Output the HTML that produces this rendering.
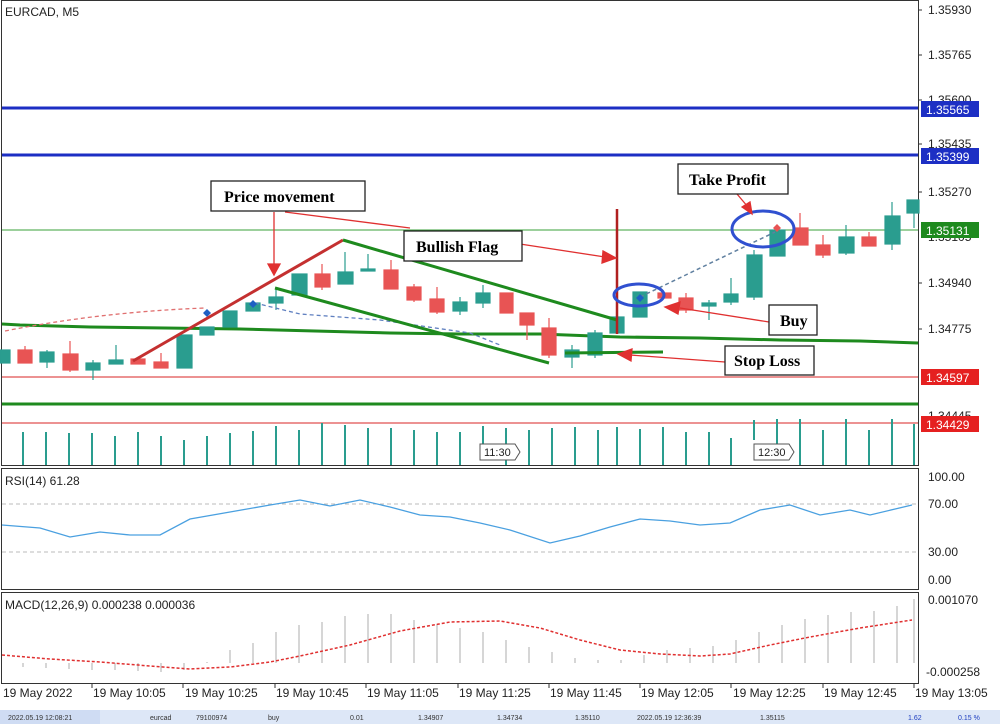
<!DOCTYPE html>
<html><head><meta charset="utf-8"><style>
body{margin:0;background:#fff;width:1000px;height:724px;overflow:hidden;font-family:"Liberation Sans",sans-serif}
svg{display:block}
.ax{font-size:12px;fill:#222;font-family:"Liberation Sans",sans-serif}
.bx{font-family:"Liberation Serif",serif;font-weight:bold;font-size:16px;fill:#000}
</style></head><body>
<svg width="1000" height="724" viewBox="0 0 1000 724">
<rect width="1000" height="724" fill="#fff"/>
<!-- panel borders -->
<rect x="1.5" y="0.5" width="917" height="465" fill="none" stroke="#333"/>
<rect x="1.5" y="468.5" width="917" height="121" fill="none" stroke="#333"/>
<rect x="1.5" y="592.5" width="917" height="91" fill="none" stroke="#333"/>
<text x="5" y="16" class="ax">EURCAD, M5</text>
<!-- right axis main -->
<g class="ax">
<text x="928" y="14">1.35930</text><text x="928" y="59">1.35765</text><text x="928" y="104">1.35600</text><text x="928" y="148">1.35435</text><text x="928" y="196">1.35270</text><text x="928" y="241">1.35105</text><text x="928" y="287">1.34940</text><text x="928" y="333">1.34775</text><text x="928" y="420">1.34445</text>
</g>
<g stroke="#333"><line x1="918" y1="10" x2="922" y2="10"/><line x1="918" y1="55" x2="922" y2="55"/><line x1="918" y1="100" x2="922" y2="100"/><line x1="918" y1="144" x2="922" y2="144"/><line x1="918" y1="192" x2="922" y2="192"/><line x1="918" y1="283" x2="922" y2="283"/><line x1="918" y1="329" x2="922" y2="329"/></g>
<!-- horizontal levels -->
<line x1="2" y1="108" x2="918" y2="108" stroke="#1d2fc4" stroke-width="3"/>
<line x1="2" y1="155" x2="918" y2="155" stroke="#1d2fc4" stroke-width="3"/>
<line x1="2" y1="230" x2="918" y2="230" stroke="#3aa03a" stroke-width="1"/>
<line x1="2" y1="377" x2="918" y2="377" stroke="#e05050" stroke-width="1.3"/>
<line x1="2" y1="404" x2="918" y2="404" stroke="#1e8a1e" stroke-width="3"/>
<line x1="2" y1="423" x2="918" y2="423" stroke="#e05050" stroke-width="1.3"/>
<polyline points="2,324 20,325 90,327 165,328 240,329 315,331 390,333 460,334 540,334 620,337 700,338 780,340 860,341 918,343" fill="none" stroke="#1e8a1e" stroke-width="3"/>
<rect x="921" y="101" width="58" height="16" fill="#1d2fc4"/><text x="926" y="114" class="ax" fill="#fff" style="fill:#fff">1.35565</text>
<rect x="921" y="148" width="58" height="16" fill="#1d2fc4"/><text x="926" y="161" style="fill:#fff" class="ax">1.35399</text>
<rect x="921" y="222" width="58" height="16" fill="#1e8a1e"/><text x="926" y="235" style="fill:#fff" class="ax">1.35131</text>
<rect x="921" y="369" width="58" height="16" fill="#e52020"/><text x="926" y="382" style="fill:#fff" class="ax">1.34597</text>
<rect x="921" y="416" width="58" height="16" fill="#e52020"/><text x="926" y="429" style="fill:#fff" class="ax">1.34429</text>
<!-- volume bars -->
<g stroke="#2a9d8f" stroke-width="2">
<line x1="23" y1="432" x2="23" y2="465"/><line x1="46" y1="432" x2="46" y2="465"/><line x1="69" y1="433" x2="69" y2="465"/><line x1="92" y1="433" x2="92" y2="465"/><line x1="115" y1="436" x2="115" y2="465"/><line x1="138" y1="432" x2="138" y2="465"/><line x1="161" y1="436" x2="161" y2="465"/><line x1="184" y1="440" x2="184" y2="465"/><line x1="207" y1="436" x2="207" y2="465"/><line x1="230" y1="433" x2="230" y2="465"/><line x1="253" y1="431" x2="253" y2="465"/><line x1="276" y1="426" x2="276" y2="465"/><line x1="299" y1="430" x2="299" y2="465"/><line x1="322" y1="423" x2="322" y2="465"/><line x1="345" y1="425" x2="345" y2="465"/><line x1="368" y1="428" x2="368" y2="465"/><line x1="391" y1="428" x2="391" y2="465"/><line x1="414" y1="430" x2="414" y2="465"/><line x1="437" y1="432" x2="437" y2="465"/><line x1="460" y1="432" x2="460" y2="465"/><line x1="483" y1="426" x2="483" y2="445"/><line x1="506" y1="428" x2="506" y2="465"/><line x1="529" y1="430" x2="529" y2="465"/><line x1="552" y1="428" x2="552" y2="465"/><line x1="575" y1="427" x2="575" y2="465"/><line x1="598" y1="430" x2="598" y2="465"/><line x1="617" y1="427" x2="617" y2="465"/><line x1="640" y1="429" x2="640" y2="465"/><line x1="663" y1="427" x2="663" y2="465"/><line x1="686" y1="432" x2="686" y2="465"/><line x1="709" y1="432" x2="709" y2="465"/><line x1="731" y1="438" x2="731" y2="465"/><line x1="754" y1="420" x2="754" y2="440"/><line x1="777" y1="419" x2="777" y2="445"/><line x1="800" y1="419" x2="800" y2="465"/><line x1="823" y1="430" x2="823" y2="465"/><line x1="846" y1="419" x2="846" y2="465"/><line x1="869" y1="430" x2="869" y2="465"/><line x1="892" y1="419" x2="892" y2="465"/><line x1="914" y1="424" x2="914" y2="465"/>
</g>
<g class="ax" style="font-size:11px"><path d="M480,444 H515 L520,452 L515,460 H480Z" fill="#fff" stroke="#555"/><text x="484" y="456">11:30</text>
<path d="M754,444 H789 L794,452 L789,460 H754Z" fill="#fff" stroke="#555"/><text x="758" y="456">12:30</text></g>
<!-- candles -->
<g stroke-width="1.2">
<g stroke="#2a9d8f" fill="#2a9d8f">
<rect x="0" y="350" width="10" height="13"/>
<line x1="47" y1="350" x2="47" y2="368"/><rect x="40" y="352" width="14" height="10"/>
<line x1="93" y1="360" x2="93" y2="380"/><rect x="86" y="363" width="14" height="7"/>
<line x1="116" y1="345" x2="116" y2="364"/><rect x="109" y="360" width="14" height="4"/>
<rect x="177" y="335" width="15" height="33"/>
<rect x="200" y="327" width="14" height="8"/>
<rect x="223" y="311" width="14" height="16"/>
<rect x="246" y="303" width="14" height="8"/>
<line x1="276" y1="288" x2="276" y2="310"/><rect x="269" y="297" width="14" height="6"/>
<rect x="292" y="274" width="15" height="21"/>
<line x1="345" y1="252" x2="345" y2="284"/><rect x="338" y="272" width="15" height="12"/>
<line x1="368" y1="254" x2="368" y2="271"/><rect x="361" y="269" width="14" height="2"/>
<line x1="460" y1="297" x2="460" y2="315"/><rect x="453" y="302" width="14" height="9"/>
<line x1="483" y1="285" x2="483" y2="308"/><rect x="476" y="293" width="14" height="10"/>
<line x1="572" y1="345" x2="572" y2="368"/><rect x="565" y="350" width="14" height="7"/>
<line x1="595" y1="330" x2="595" y2="358"/><rect x="588" y="333" width="14" height="22"/>
<rect x="610" y="317" width="14" height="16"/>
<rect x="633" y="292" width="14" height="25"/>
<line x1="709" y1="300" x2="709" y2="320"/><rect x="702" y="303" width="14" height="3"/>
<line x1="731" y1="278" x2="731" y2="305"/><rect x="724" y="294" width="14" height="8"/>
<line x1="754" y1="250" x2="754" y2="300"/><rect x="747" y="255" width="15" height="42"/>
<rect x="770" y="230" width="15" height="26"/>
<line x1="846" y1="225" x2="846" y2="255"/><rect x="839" y="237" width="15" height="16"/>
<line x1="892" y1="202" x2="892" y2="250"/><rect x="885" y="216" width="15" height="28"/>
<line x1="914" y1="200" x2="914" y2="228"/><rect x="907" y="200" width="12" height="13"/>
</g>
<g stroke="#e85454" fill="#e85454">
<line x1="25" y1="346" x2="25" y2="363"/><rect x="18" y="350" width="14" height="13"/>
<line x1="70" y1="341" x2="70" y2="372"/><rect x="63" y="354" width="15" height="16"/>
<rect x="131" y="359" width="14" height="5"/>
<line x1="161" y1="353" x2="161" y2="368"/><rect x="154" y="362" width="14" height="6"/>
<line x1="322" y1="264" x2="322" y2="290"/><rect x="315" y="274" width="15" height="13"/>
<line x1="391" y1="260" x2="391" y2="289"/><rect x="384" y="270" width="14" height="19"/>
<line x1="414" y1="284" x2="414" y2="302"/><rect x="407" y="287" width="14" height="13"/>
<line x1="437" y1="287" x2="437" y2="314"/><rect x="430" y="299" width="14" height="13"/>
<rect x="500" y="293" width="13" height="20"/>
<line x1="527" y1="313" x2="527" y2="340"/><rect x="520" y="313" width="14" height="12"/>
<line x1="549" y1="318" x2="549" y2="358"/><rect x="542" y="328" width="14" height="27"/>
<rect x="658" y="293" width="13" height="5"/>
<line x1="686" y1="293" x2="686" y2="313"/><rect x="679" y="298" width="14" height="12"/>
<line x1="800" y1="213" x2="800" y2="245"/><rect x="793" y="228" width="15" height="17"/>
<line x1="823" y1="235" x2="823" y2="258"/><rect x="816" y="245" width="14" height="10"/>
<line x1="869" y1="232" x2="869" y2="246"/><rect x="862" y="237" width="14" height="9"/>
</g></g>
<!-- dashed -->
<path d="M5,331 Q100,312 205,308" fill="none" stroke="#e07070" stroke-width="1.3" stroke-dasharray="4,3"/>
<path d="M255,303 L300,314 L380,320 L470,333 L500,345" fill="none" stroke="#6080c0" stroke-width="1.3" stroke-dasharray="4,3"/>
<line x1="640" y1="297" x2="775" y2="232" stroke="#6080a0" stroke-width="1.5" stroke-dasharray="4,3"/>
<g fill="#1d5fc4"><path d="M207,309 l4,4 -4,4 -4,-4z"/><path d="M253,300 l4,4 -4,4 -4,-4z"/><path d="M640,294 l4,4 -4,4 -4,-4z"/></g>
<path d="M777,224 l4,4 -4,4 -4,-4z" fill="#e85454"/>
<!-- pattern lines -->
<line x1="133" y1="361" x2="343" y2="240" stroke="#c43030" stroke-width="3"/>
<line x1="343" y1="240" x2="617" y2="320" stroke="#1e8a1e" stroke-width="3"/>
<line x1="275" y1="288" x2="549" y2="363" stroke="#1e8a1e" stroke-width="3"/>
<line x1="565" y1="353" x2="663" y2="352" stroke="#1e8a1e" stroke-width="3"/>
<line x1="617" y1="209" x2="617" y2="334" stroke="#b02020" stroke-width="2.5"/>
<ellipse cx="639" cy="295" rx="25" ry="11" fill="none" stroke="#3050d0" stroke-width="3"/>
<ellipse cx="763" cy="229" rx="31" ry="18" fill="none" stroke="#3050d0" stroke-width="3"/>
<!-- annotation arrows -->
<g stroke="#e03030" stroke-width="1.3" fill="#e03030">
<line x1="274" y1="212" x2="274" y2="265"/><path d="M268,264 h12 l-6,11z"/>
<line x1="285" y1="212" x2="410" y2="228"/><line x1="520" y1="244" x2="605" y2="257"/><path d="M603,251 l13,7 -14,5z"/>
<line x1="737" y1="194" x2="748" y2="207"/><path d="M742,207 l10,7 -2,-12z"/>
<line x1="769" y1="322" x2="680" y2="308"/><path d="M680,302 l-15,5 13,7z"/>
<line x1="725" y1="362" x2="630" y2="355"/><path d="M632,349 l-14,5 13,7z"/>
</g>
<!-- boxes -->
<g fill="#fff" stroke="#222" stroke-width="1.3">
<rect x="211" y="181" width="154" height="30"/><rect x="404" y="231" width="118" height="30"/>
<rect x="678" y="164" width="110" height="30"/><rect x="769" y="305" width="48" height="30"/>
<rect x="725" y="346" width="89" height="29"/></g>
<text x="224" y="202" class="bx">Price movement</text>
<text x="416" y="252" class="bx">Bullish Flag</text>
<text x="689" y="185" class="bx">Take Profit</text>
<text x="780" y="326" class="bx">Buy</text>
<text x="734" y="366" class="bx">Stop Loss</text>
<!-- RSI -->
<text x="5" y="485" class="ax">RSI(14) 61.28</text>
<line x1="2" y1="504" x2="918" y2="504" stroke="#bbb" stroke-dasharray="4,3"/>
<line x1="2" y1="552" x2="918" y2="552" stroke="#bbb" stroke-dasharray="4,3"/>
<polyline points="2,525 40,528 70,537 100,532 130,535 160,535 190,519 230,512 270,505 300,500 330,506 360,500 390,507 420,515 450,517 480,523 510,530 550,543 580,536 610,527 640,519 670,521 700,525 730,523 760,510 790,505 820,515 850,510 870,515 912,505" fill="none" stroke="#4aa0e0" stroke-width="1.3"/>
<g class="ax"><text x="928" y="481">100.00</text><text x="928" y="508">70.00</text><text x="928" y="556">30.00</text><text x="928" y="584">0.00</text></g>
<!-- MACD -->
<text x="5" y="609" class="ax">MACD(12,26,9) 0.000238 0.000036</text>
<g stroke="#bbb" stroke-width="1.2">
<line x1="23" y1="663" x2="23" y2="667"/><line x1="46" y1="663" x2="46" y2="668"/><line x1="69" y1="663" x2="69" y2="669"/><line x1="92" y1="663" x2="92" y2="670"/><line x1="115" y1="663" x2="115" y2="670"/><line x1="138" y1="663" x2="138" y2="671"/><line x1="161" y1="663" x2="161" y2="672"/><line x1="184" y1="663" x2="184" y2="670"/><line x1="207" y1="663" x2="207" y2="662"/><line x1="230" y1="663" x2="230" y2="650"/><line x1="253" y1="663" x2="253" y2="643"/><line x1="276" y1="663" x2="276" y2="632"/><line x1="299" y1="663" x2="299" y2="625"/><line x1="322" y1="663" x2="322" y2="622"/><line x1="345" y1="663" x2="345" y2="616"/><line x1="368" y1="663" x2="368" y2="614"/><line x1="391" y1="663" x2="391" y2="614"/><line x1="414" y1="663" x2="414" y2="620"/><line x1="437" y1="663" x2="437" y2="624"/><line x1="460" y1="663" x2="460" y2="628"/><line x1="483" y1="663" x2="483" y2="632"/><line x1="506" y1="663" x2="506" y2="640"/><line x1="529" y1="663" x2="529" y2="647"/><line x1="552" y1="663" x2="552" y2="652"/><line x1="575" y1="663" x2="575" y2="658"/><line x1="598" y1="663" x2="598" y2="660"/><line x1="621" y1="663" x2="621" y2="660"/><line x1="644" y1="663" x2="644" y2="655"/><line x1="667" y1="663" x2="667" y2="650"/><line x1="690" y1="663" x2="690" y2="648"/><line x1="713" y1="663" x2="713" y2="646"/><line x1="736" y1="663" x2="736" y2="640"/><line x1="759" y1="663" x2="759" y2="632"/><line x1="782" y1="663" x2="782" y2="625"/><line x1="805" y1="663" x2="805" y2="619"/><line x1="828" y1="663" x2="828" y2="615"/><line x1="851" y1="663" x2="851" y2="612"/><line x1="874" y1="663" x2="874" y2="611"/><line x1="897" y1="663" x2="897" y2="606"/><line x1="914" y1="663" x2="914" y2="599"/>
</g>
<polyline points="2,655 50,659 100,662 150,666 190,669 230,667 270,662 300,656 350,645 400,631 450,622 500,621 540,628 580,640 620,650 660,654 700,656 730,654 770,645 810,637 860,628 912,620" fill="none" stroke="#e03030" stroke-width="1.5" stroke-dasharray="3,2"/>
<g class="ax"><text x="928" y="604">0.001070</text><text x="926" y="676">-0.000258</text></g>
<!-- time axis -->
<g class="ax" style="font-size:12px">
<text x="3" y="697">19 May 2022</text><text x="93" y="697">19 May 10:05</text><text x="185" y="697">19 May 10:25</text><text x="276" y="697">19 May 10:45</text><text x="367" y="697">19 May 11:05</text><text x="459" y="697">19 May 11:25</text><text x="550" y="697">19 May 11:45</text><text x="641" y="697">19 May 12:05</text><text x="733" y="697">19 May 12:25</text><text x="824" y="697">19 May 12:45</text><text x="915" y="697">19 May 13:05</text>
</g>
<g stroke="#333"><line x1="92" y1="684" x2="92" y2="688"/><line x1="183" y1="684" x2="183" y2="688"/><line x1="275" y1="684" x2="275" y2="688"/><line x1="366" y1="684" x2="366" y2="688"/><line x1="458" y1="684" x2="458" y2="688"/><line x1="549" y1="684" x2="549" y2="688"/><line x1="640" y1="684" x2="640" y2="688"/><line x1="731" y1="684" x2="731" y2="688"/><line x1="823" y1="684" x2="823" y2="688"/><line x1="914" y1="684" x2="914" y2="688"/></g>
<!-- status bar -->
<rect x="0" y="710" width="1000" height="14" fill="#dde7f7"/>
<rect x="0" y="710" width="100" height="14" fill="#cfdcf3"/>
<g style="font-size:7px;font-family:'Liberation Sans',sans-serif" fill="#333">
<text x="8" y="720">2022.05.19 12:08:21</text><text x="150" y="720">eurcad</text><text x="196" y="720">79100974</text><text x="268" y="720">buy</text><text x="350" y="720">0.01</text><text x="418" y="720">1.34907</text><text x="497" y="720">1.34734</text><text x="575" y="720">1.35110</text><text x="637" y="720">2022.05.19 12:36:39</text><text x="760" y="720">1.35115</text><text x="908" y="720" fill="#2040c0">1.62</text><text x="958" y="720" fill="#2040c0">0.15 %</text>
</g>
</svg>
</body></html>
